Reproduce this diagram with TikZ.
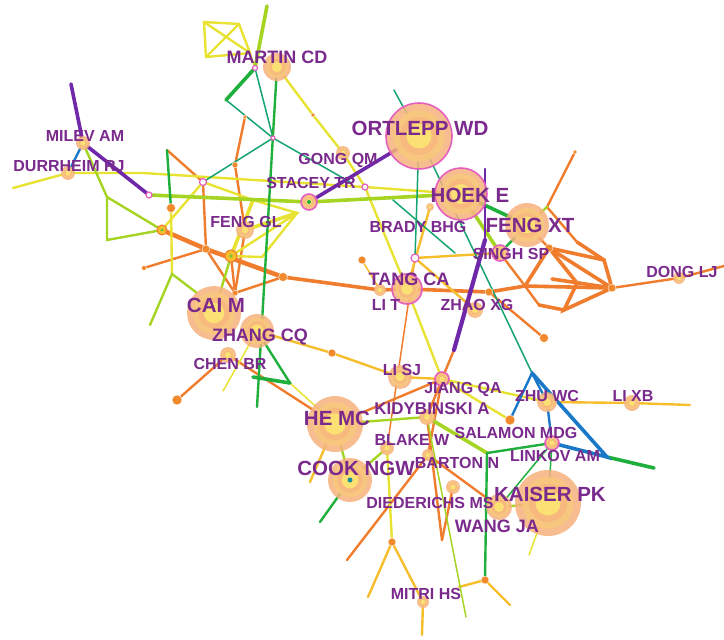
\documentclass[tikz,border=0pt]{standalone}
\usepackage{fontspec}
\setmainfont{Liberation Sans}
\usepackage{tikz}
\usetikzlibrary{calc}

\definecolor{authorpurple}{RGB}{122,42,140}
\definecolor{cpurple}{RGB}{112,40,170}
\definecolor{cblue}{RGB}{25,120,200}
\definecolor{cgreen}{RGB}{30,175,60}
\definecolor{cteal}{RGB}{20,165,110}
\definecolor{clime}{RGB}{165,212,35}
\definecolor{cyellow}{RGB}{232,226,50}
\definecolor{camber}{RGB}{246,190,45}
\definecolor{corange}{RGB}{240,125,45}
\definecolor{ringout}{RGB}{246,178,125}
\definecolor{ringmid}{RGB}{249,200,125}
\definecolor{ringin}{RGB}{251,225,115}
\definecolor{ringpink}{RGB}{228,95,190}

% concentric citation rings
\newcommand{\citenode}[2]{%
  \fill[ringout, fill opacity=0.85] (#1) circle[radius=#2pt];
  \fill[ringmid, fill opacity=0.9] (#1) circle[radius={0.78*#2pt}];
  \fill[ringout!70!ringmid] (#1) circle[radius={0.58*#2pt}];
  \fill[ringin] (#1) circle[radius={0.38*#2pt}];
}
\newcommand{\pinknode}[2]{%
  \citenode{#1}{#2}
  \draw[ringpink, line width=1.6pt] (#1) circle[radius=#2pt];
}

\begin{document}
\begin{tikzpicture}[x=1pt, y=-1pt, line cap=round,
    edgethin/.style={line width=1.5pt},
    edgemid/.style={line width=2.4pt},
    edgebold/.style={line width=3.6pt},
    labs/.style={text=authorpurple, font=\fontsize{16}{16}\selectfont\bfseries, inner sep=0pt},
    labm/.style={labs, font=\fontsize{18}{18}\selectfont\bfseries},
    labl/.style={labs, font=\fontsize{20.5}{20.5}\selectfont\bfseries},
    dotorange/.style={fill=corange!80!camber, draw=white, line width=0.4pt},
    dotpink/.style={fill=white, draw=ringpink, line width=1.2pt}]

    \useasboundingbox (0,0) rectangle (724,640);

    % authors
    \coordinate (ortlepp) at (419,136);
    \coordinate (hoek) at (461,194);
    \coordinate (fengxt) at (527,225);
    \coordinate (kaiser) at (548,503);
    \coordinate (hemc) at (335,424);
    \coordinate (cook) at (350,480);
    \coordinate (caim) at (214,313);
    \coordinate (zhangcq) at (257,331);
    \coordinate (martin) at (277,67);
    \coordinate (tangca) at (407,289);
    \coordinate (zhuwc) at (547,402);
    \coordinate (lixb) at (632,403);
    \coordinate (donglj) at (679,278);
    \coordinate (singh) at (500,253);
    \coordinate (zhaoxg) at (475,310);
    \coordinate (lisj) at (400,377);
    \coordinate (jiangqa) at (442,379);
    \coordinate (kidy) at (427,417);
    \coordinate (salamon) at (552,443);
    \coordinate (wangja) at (499,507);
    \coordinate (blake) at (387,448);
    \coordinate (barton) at (428,455);
    \coordinate (diederichs) at (453,487);
    \coordinate (mitri) at (423,602);
    \coordinate (lit) at (380,290);
    \coordinate (chenbr) at (228,355);
    \coordinate (fenggl) at (245,230);
    \coordinate (stacey) at (309,202);
    \coordinate (gongqm) at (343,153);
    \coordinate (milev) at (83,143);
    \coordinate (durrheim) at (68,173);
    \coordinate (brady) at (430,207);

    % junctions and loose ends
    \coordinate (sqa) at (204,22);
    \coordinate (sqb) at (239,24);
    \coordinate (sqc) at (250,53);
    \coordinate (sqd) at (206,57);
    \coordinate (mtop) at (267,6);
    \coordinate (mnode) at (255,68);
    \coordinate (g1) at (226,100);
    \coordinate (g2) at (273,138);
    \coordinate (g3) at (350,182);
    \coordinate (y1) at (313,115);
    \coordinate (pk1) at (203,182);
    \coordinate (pk2) at (365,187);
    \coordinate (pk3) at (415,258);
    \coordinate (o1) at (245,117);
    \coordinate (o2) at (235,165);
    \coordinate (cj) at (235,293);
    \coordinate (mvtop) at (71,84);
    \coordinate (pp) at (149,195);
    \coordinate (w1) at (13,188);
    \coordinate (y3) at (143,173);
    \coordinate (y4) at (253,200);
    \coordinate (yf1) at (297,213);
    \coordinate (yf2) at (262,257);
    \coordinate (fg2) at (231,256);
    \coordinate (gl1) at (107,197);
    \coordinate (gl2) at (107,240);
    \coordinate (gl3) at (162,230);
    \coordinate (gv1) at (167,150);
    \coordinate (gv2) at (171,208);
    \coordinate (yv1) at (172,274);
    \coordinate (yv2) at (150,325);
    \coordinate (yv3) at (197,293);
    \coordinate (lo) at (144,268);
    \coordinate (o4) at (206,249);
    \coordinate (o5) at (283,277);
    \coordinate (gend) at (257,407);
    \coordinate (gz1) at (253,377);
    \coordinate (gz) at (290,383);
    \coordinate (zy) at (223,391);
    \coordinate (cb) at (177,400);
    \coordinate (zn1) at (332,353);
    \coordinate (hy) at (310,482);
    \coordinate (cg) at (320,522);
    \coordinate (by) at (392,542);
    \coordinate (bya) at (368,597);
    \coordinate (mend) at (422,635);
    \coordinate (od1) at (347,560);
    \coordinate (dn2) at (442,540);
    \coordinate (gk) at (487,453);
    \coordinate (gk2) at (485,580);
    \coordinate (gka) at (459,587);
    \coordinate (gkb) at (510,605);
    \coordinate (ylw1) at (466,617);
    \coordinate (ky) at (529,555);
    \coordinate (ba) at (532,373);
    \coordinate (bl) at (510,420);
    \coordinate (br) at (607,457);
    \coordinate (bg) at (654,468);
    \coordinate (xbend) at (690,405);
    \coordinate (pv1) at (485,169);
    \coordinate (pv2) at (485,240);
    \coordinate (pv3) at (454,350);
    \coordinate (on4) at (544,338);
    \coordinate (gt) at (394,90);
    \coordinate (gb1) at (393,200);
    \coordinate (gb2) at (455,253);
    \coordinate (tl) at (362,260);
    \coordinate (mk) at (547,207);
    \coordinate (ml) at (575,152);
    \coordinate (ma) at (549,248);
    \coordinate (mb) at (577,242);
    \coordinate (mc) at (604,260);
    \coordinate (md) at (612,288);
    \coordinate (me) at (577,283);
    \coordinate (mf) at (552,279);
    \coordinate (mg) at (525,286);
    \coordinate (mh) at (539,305);
    \coordinate (mi) at (564,310);
    \coordinate (mj) at (489,292);
    \coordinate (djend) at (724,266);

    % orange links
    \draw[corange, edgemid] (o1) -- (o2) -- (fenggl) -- (cj);
    \draw[corange, edgemid] (gv1) -- (pk1) -- (o4);
    \draw[corange, line width=4.5pt] (gl3) -- (o4) -- (o5);
    \draw[corange, edgemid] (lo) -- (o4) -- (cj) -- (o5);
    \draw[corange, edgemid] (fg2) -- (cj);
    \draw[corange, edgebold] (o5) -- (lit) -- (tangca) -- (mj) -- (mg);
    \draw[corange, edgebold] (mg) -- (ma) -- (mc) -- (md) -- (mg);
    \draw[corange, edgebold] (ma) -- (md) (mb) -- (mc) (mf) -- (md) (ma) -- (me) -- (mi) -- (md) (mh) -- (mi);
    \draw[corange, edgemid] (mk) -- (mb) (mg) -- (mh) (ma) -- (fengxt) (singh) -- (mg);
    \draw[corange, edgemid] (md) -- (donglj) -- (djend);
    \draw[corange, edgemid] (mk) -- (ml);
    \draw[corange, edgemid] (mj) -- (on4);
    \draw[corange, edgemid] (chenbr) -- (cb);
    \draw[corange, edgemid] (chenbr) -- (hemc) -- (jiangqa);
    \draw[corange, edgethin] (pk3) -- (blake);
    \draw[corange, edgemid] (pv3) -- (jiangqa) -- (kidy) -- (dn2);
    \draw[corange, edgemid] (od1) -- (barton) -- (jiangqa);
    \draw[corange, edgemid] (barton) -- (wangja);
    \draw[corange, edgemid] (diederichs) -- (dn2);

    % amber links
    \draw[camber, edgemid] (zhangcq) -- (zn1) -- (lisj) -- (jiangqa);
    \draw[camber, edgemid] (zhuwc) -- (lixb) -- (xbend);
    \draw[camber, edgemid] (bya) -- (by) -- (mitri) -- (mend);
    \draw[camber, edgemid] (hemc) -- (hy);
    \draw[camber, edgemid] (gka) -- (gk2) -- (gkb);
    \draw[camber, edgemid] (brady) -- (tangca);
    \draw[camber, edgemid] (singh) -- (pk3) -- (zhaoxg);
    \draw[camber, edgethin] (tl) -- (lit);

    % yellow links
    \draw[cyellow, edgemid] (sqa) -- (sqb) -- (sqc) -- (sqd) -- cycle;
    \draw[cyellow, edgemid] (sqa) -- (sqc) (sqb) -- (sqd);
    \draw[cyellow, edgethin] (sqc) -- (mnode);
    \draw[cyellow, edgemid] (martin) -- (y1) -- (gongqm) -- (pk2) -- (tangca);
    \draw[cyellow, edgemid] (pk2) -- (hoek);
    \draw[cyellow, edgemid] (w1) -- (durrheim) -- (y3) -- (pk2);
    \draw[cyellow, edgemid] (pk1) -- (y4) (pk1) -- (gl3);
    \draw[cyellow, edgebold] (y4) -- (fg2) (fenggl) -- (yf1);
    \draw[cyellow, edgemid] (y4) -- (yf1) -- (fg2) (yf1) -- (yf2) -- (fg2);
    \draw[cyellow, edgemid] (gv2) -- (yv1);
    \draw[cyellow, edgemid] (tangca) -- (jiangqa) -- (zhuwc);
    \draw[cyellow, edgethin] (zhangcq) -- (zy);
    \draw[cyellow, edgemid] (blake) -- (by);
    \draw[cyellow, edgethin] (gz) -- (hemc);
    \draw[cyellow, edgethin] (kaiser) -- (ky);
    \draw[cyellow, edgemid] (jiangqa) -- (bl);

    % lime links
    \draw[clime, edgebold] (mtop) -- (mnode);
    \draw[clime, edgebold] (pp) -- (stacey) -- (hoek);
    \draw[clime, edgebold] (hoek) -- (singh);
    \draw[clime, edgemid] (fengxt) -- (mk);
    \draw[clime, edgemid] (milev) -- (gl1) -- (gl2) -- (gl3) -- (gl1);
    \draw[clime, edgemid] (hemc) -- (kidy);
    \draw[clime, edgebold] (kidy) -- (gk);
    \draw[clime, edgemid] (hemc) -- (cook) -- (blake);
    \draw[clime, edgethin] (kidy) -- (ylw1);
    \draw[clime, edgemid] (wangja) -- (kaiser);
    \draw[clime, edgemid] (fg2) -- (caim);
    \draw[clime, edgemid] (yv3) -- (yv1) -- (yv2);

    % green links
    \draw[cteal, edgethin] (mnode) -- (g2) -- (g1);
    \draw[cteal, edgethin] (pk1) -- (g2) -- (g3);
    \draw[cteal, edgethin] (gt) -- (ortlepp) -- (ba);
    \draw[cteal, edgethin] (gb1) -- (gb2);
    \draw[cteal, edgethin] (ortlepp) -- (pk3);
    \draw[cgreen, edgebold] (mnode) -- (g1);
    \draw[cgreen, edgemid] (martin) -- (gend);
    \draw[cgreen, edgemid] (gv1) -- (gv2);
    \draw[cgreen, edgebold] (hoek) -- (fengxt);
    \draw[cgreen, edgemid] (fengxt) -- (singh);
    \draw[cgreen, edgebold] (gz1) -- (gz);
    \draw[cgreen, edgemid] (zhangcq) -- (gz);
    \draw[cgreen, edgemid] (cook) -- (cg);
    \draw[cgreen, edgemid] (gk) -- (salamon);
    \draw[cgreen, edgemid] (gk) -- (gk2);
    \draw[cgreen, edgebold] (br) -- (bg);
    \draw[cgreen, edgethin] (salamon) -- (kaiser);
    \draw[cgreen, edgethin] (salamon) -- (wangja);

    % blue and purple links
    \draw[cblue, edgemid] (milev) -- (durrheim);
    \draw[cblue, edgemid] (bl) -- (ba) -- (zhuwc) -- (salamon);
    \draw[cblue, edgebold] (ba) -- (br) -- (salamon);
    \draw[cpurple, edgebold] (mvtop) -- (milev) -- (pp);
    \draw[cpurple, edgebold] (stacey) -- (ortlepp);
    \draw[cpurple, edgemid] (pv1) -- (pv2);
    \draw[cpurple, line width=4.2pt] (pv2) -- (pv3);

    % small dots
    \fill[dotorange] (o4) circle[radius=4pt] (o5) circle[radius=4.5pt] (cj) circle[radius=3pt]
        (gv2) circle[radius=4.5pt] (lo) circle[radius=2.5pt] (cb) circle[radius=5pt]
        (zn1) circle[radius=4pt] (tl) circle[radius=4pt] (by) circle[radius=4pt]
        (gk2) circle[radius=4pt] (mj) circle[radius=4pt] (ma) circle[radius=4pt]
        (md) circle[radius=4pt] (on4) circle[radius=4.5pt] (bl) circle[radius=5pt]
        (ml) circle[radius=2pt] (o1) circle[radius=2pt] (o2) circle[radius=3pt] (y1) circle[radius=2pt];
    \fill[camber, draw=corange, line width=1pt] (gl3) circle[radius=5pt] (fg2) circle[radius=6pt];
    \fill[clime!60!cgreen] (gl3) circle[radius=1.6pt] (fg2) circle[radius=1.8pt];
    \path[dotpink] (pk1) circle[radius=3.5pt] (pk2) circle[radius=3pt] (pk3) circle[radius=4pt]
        (mnode) circle[radius=2.5pt] (g2) circle[radius=2pt] (pp) circle[radius=3pt];

    % citation rings
    \pinknode{ortlepp}{33}
    \pinknode{hoek}{26}
    \citenode{fengxt}{22}
    \citenode{kaiser}{33}
    \citenode{hemc}{28}
    \citenode{cook}{22}
    \citenode{caim}{27}
    \citenode{zhangcq}{17}
    \citenode{martin}{14}
    \pinknode{tangca}{15}
    \citenode{zhuwc}{10}
    \citenode{lixb}{8}
    \citenode{donglj}{6}
    \pinknode{singh}{8}
    \citenode{zhaoxg}{8}
    \citenode{lisj}{12}
    \pinknode{jiangqa}{7}
    \citenode{kidy}{8}
    \pinknode{salamon}{7}
    \citenode{wangja}{13}
    \citenode{blake}{7}
    \citenode{barton}{6}
    \citenode{diederichs}{7}
    \citenode{mitri}{6}
    \citenode{lit}{6}
    \citenode{chenbr}{8}
    \citenode{fenggl}{9}
    \pinknode{stacey}{8}
    \citenode{gongqm}{7}
    \citenode{milev}{7}
    \citenode{durrheim}{7}
    \citenode{brady}{4}
    \fill[cgreen] (stacey) circle[radius=2pt];
    \fill[cteal!50!cblue] (cook) circle[radius=2.5pt];

    % labels
    \node[labl] (ortlepplab) at (420,128) {ORTLEPP WD};
    \node[labl] (hoeklab) at (470,195) {HOEK E};
    \node[labl] (fengxtlab) at (530,225) {FENG XT};
    \node[labl] (kaiserlab) at (550,494) {KAISER PK};
    \node[labl] (hemclab) at (337,418) {HE MC};
    \node[labl] (cooklab) at (356,468) {COOK NGW};
    \node[labl] (caimlab) at (216,305) {CAI M};
    \node[labm] (zhangcqlab) at (260,337) {ZHANG CQ};
    \node[labm] (martinlab) at (277,57) {MARTIN CD};
    \node[labm] (tangcalab) at (409,279) {TANG CA};
    \node[labm] (wangjalab) at (497,526) {WANG JA};
    \node[labs, font=\fontsize{17}{17}\selectfont\bfseries] (kidylab) at (432,409) {KIDYBINSKI A};
    \node[labs] (salamonlab) at (516,433) {SALAMON MDG};
    \node[labs] (diederichslab) at (430,503) {DIEDERICHS MS};
    \node[labs] (linkovlab) at (555,456) {LINKOV AM};
    \node[labs] (durrheimlab) at (69,166) {DURRHEIM RJ};
    \node[labs] (milevlab) at (85,136) {MILEV AM};
    \node[labs] (staceylab) at (311,183) {STACEY TR};
    \node[labs] (gongqmlab) at (338,160) {GONG QM};
    \node[labs] (fengglab) at (246,222) {FENG GL};
    \node[labs] (chenbrlab) at (230,364) {CHEN BR};
    \node[labs] (lisjlab) at (402,370) {LI SJ};
    \node[labs] (jiangqalab) at (463,389) {JIANG QA};
    \node[labs] (zhuwclab) at (547,396) {ZHU WC};
    \node[labs] (lixblab) at (633,396) {LI XB};
    \node[labs] (blakelab) at (412,440) {BLAKE W};
    \node[labs] (bartonlab) at (457,463) {BARTON N};
    \node[labs] (mitrilab) at (426,594) {MITRI HS};
    \node[labs] (singhlab) at (511,254) {SINGH SP};
    \node[labs] (dongljlab) at (682,272) {DONG LJ};
    \node[labs] (litlab) at (386,305) {LI T};
    \node[labs] (zhaoxglab) at (477,305) {ZHAO XG};
    \node[labs] (bradylab) at (418,227) {BRADY BHG};

\end{tikzpicture}
\end{document}
